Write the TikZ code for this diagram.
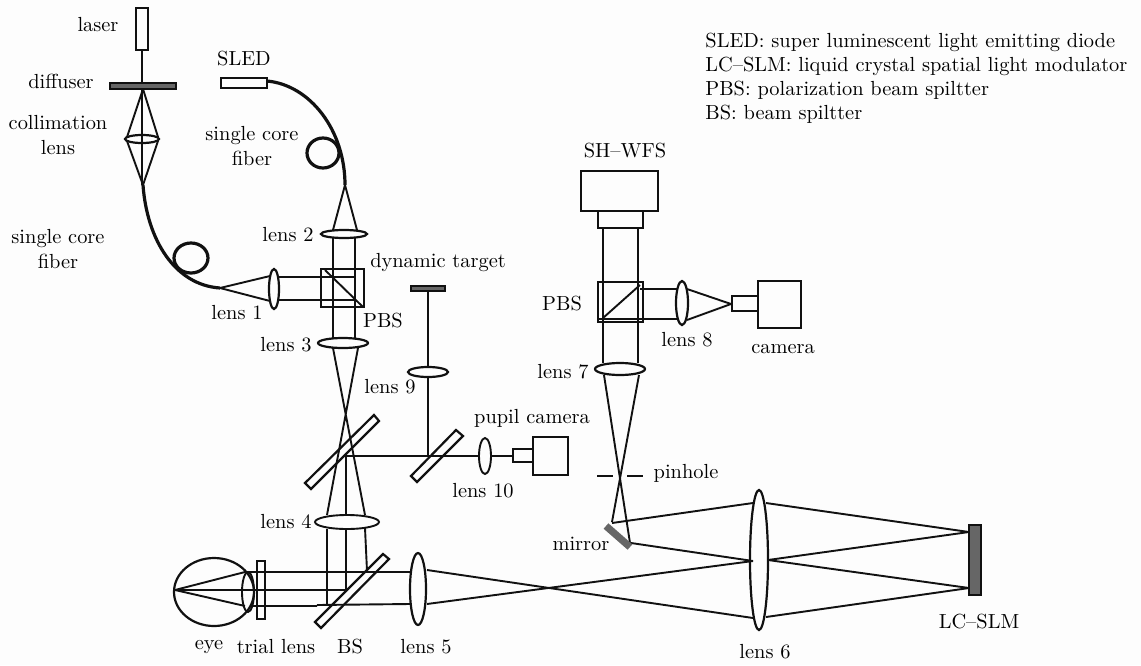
\documentclass[tikz,border=0pt]{standalone}
\definecolor{ink}{HTML}{111111}
\definecolor{bar}{HTML}{666666}
\definecolor{paper}{HTML}{FDFDFD}
\tikzset{
  ray/.style={draw=ink,line width=0.95pt},
  fibre/.style={draw=ink,line width=1.6pt},
  part/.style={draw=ink,line width=1.1pt},
  glass/.style={draw=ink,line width=0.95pt,fill=paper},
  dark/.style={draw=ink,line width=1.05pt,fill=bar},
  lbl/.style={inner sep=0pt,text=black,align=center,font=\fontsize{10.2}{12}\selectfont},
  legend/.style={inner sep=0pt,text=black,anchor=west,font=\fontsize{10.2}{12}\selectfont}
}
\begin{document}
\begin{tikzpicture}[x=0.5pt,y=-0.5pt]
\useasboundingbox[fill=paper] (0,0) rectangle (1141,665);

% --- laser arm
\draw[ray] (142,50) -- (142,185);
\draw[part] (136,8) rectangle (148,50);
\draw[dark] (110,83) rectangle (176,89);
\draw[ray] (143,89) -- (127,137) (143,89) -- (158,137);
\draw[ray] (127,141) -- (143,185) (158,141) -- (143,185);
\draw[part] (142,139) ellipse [x radius=17,y radius=4];
\draw[fibre] (143,185) .. controls (147,240) and (175,285) .. (220,288);
\draw[fibre] (191,258) ellipse [x radius=17,y radius=15];
\draw[ray] (220,288) -- (270,276) (220,288) -- (270,301);
\draw[part] (274,289) ellipse [x radius=5,y radius=20];
\draw[ray] (279,277) -- (355,277) (279,300) -- (355,300);

% --- SLED arm
\draw[part] (221,78) rectangle (267,88);
\draw[fibre] (267,81) .. controls (310,85) and (345,130) .. (345,185);
\draw[fibre] (323,153) ellipse [x radius=16,y radius=15];
\draw[ray] (345,185) -- (333,230) (345,185) -- (357,230);
\draw[part] (344,234) ellipse [x radius=23,y radius=4];
\draw[ray] (333,238) -- (333,338) (355,238) -- (355,338);
\draw[part] (321,269) rectangle (364,307);
\draw[ray] (325,270) -- (363,307);
\draw[part] (343,343) ellipse [x radius=25,y radius=5];
\draw[ray] (333,348) -- (365,515) (358,348) -- (327,515);

% --- beam splitter and pupil arm
\draw[part] (374,415) -- (379,421) -- (311,489) -- (305,483) -- cycle;
\draw[ray] (346,456) -- (346,590);
\draw[ray] (346,456) -- (513,456);
\draw[ray] (428,289) -- (428,367) (428,377) -- (428,456);
\draw[dark] (411,286) rectangle (445,291);
\draw[part] (428,372) ellipse [x radius=20,y radius=5];
\draw[part] (456,430) -- (463,436) -- (417,482) -- (411,476) -- cycle;
\draw[glass] (485,456) ellipse [x radius=6,y radius=18];
\draw[part] (513,449) rectangle (533,462);
\draw[part] (533,437) rectangle (568,475);

% --- lens 4 and eye
\draw[glass] (347,522) ellipse [x radius=32,y radius=7];
\draw[ray] (327,529) -- (327,605) (365,528) -- (367,571);
\draw[part] (214,592) ellipse [x radius=40,y radius=34];
\draw[ray] (248,592) ellipse [x radius=6,y radius=20];
\draw[part,fill=paper] (257,561) rectangle (265,619);
\draw[ray] (175,590) -- (245,572) (175,590) -- (245,606);
\draw[ray] (245,572) -- (410,572) (175,590) -- (346,590) (250,606) -- (317,606) (317,605) -- (410,604);
\draw[part] (383,554) -- (389,559) -- (321,628) -- (315,622) -- cycle;

% --- relay to SLM
\draw[part] (418,589) ellipse [x radius=8,y radius=36];
\draw[ray] (427,570) -- (753,618) (427,604) -- (753,561);
\draw[ray] (612,523) -- (753,503) (631,543) -- (753,561);
\draw[part] (759,560) ellipse [x radius=9,y radius=70];
\draw[ray] (766,503) -- (969,532) (768,560) -- (969,532);
\draw[ray] (768,560) -- (969,588) (766,617) -- (969,588);
\draw[dark] (969,525) rectangle (981,595);

% --- wavefront sensor arm
\draw[ray] (604,375) -- (630,543) (639,375) -- (612,522);
\draw[part] (597,476) -- (613,476) (627,476) -- (643,476);
\draw[draw=bar,line width=3.6pt] (606,526) -- (630,547);
\draw[part] (620,369) ellipse [x radius=25,y radius=6];
\draw[part] (603,228) -- (603,363) (638,228) -- (638,363);
\draw[part] (598,282) rectangle (643,322);
\draw[part] (598,319) -- (643,319);
\draw[ray] (603,318) -- (640,285);
\draw[ray] (640,289) -- (678,289) (640,319) -- (678,319);
\draw[part] (682,303) ellipse [x radius=6,y radius=22];
\draw[ray] (687,289) -- (731,304) (687,320) -- (731,304);
\draw[part] (732,296) rectangle (758,311);
\draw[part] (758,281) rectangle (801,328);
\draw[part] (581,171) rectangle (658,211);
\draw[part] (598,211) rectangle (643,228);

% --- labels
\node[lbl] (tlaser) at (98,25) {laser};
\node[lbl] (tdiff) at (61,81) {diffuser};
\node[lbl] (tcoll) at (58,135) {collimation\\[0.4pt]lens};
\node[lbl] (tfibL) at (58,249) {single core\\[0.4pt]fiber};
\node[lbl] (tfibR) at (252,146) {single core\\[0.4pt]fiber};
\node[lbl] (tsled) at (244,59) {SLED};
\node[lbl] (tl2) at (288,235) {lens 2};
\node[lbl] (tl1) at (237,313) {lens 1};
\node[lbl] (tdyn) at (438,263) {dynamic target};
\node[lbl] (tpbs1) at (383,321) {PBS};
\node[lbl] (tl3) at (286,345) {lens 3};
\node[lbl] (tl9) at (390,387) {lens 9};
\node[lbl] (tpup) at (532,418) {pupil camera};
\node[lbl] (tl10) at (483,491) {lens 10};
\node[lbl] (tl4) at (286,522) {lens 4};
\node[lbl] (teye) at (209,647) {eye};
\node[lbl] (ttrial) at (276,647) {trial lens};
\node[lbl] (tbs) at (350,647) {BS};
\node[lbl] (tl5) at (426,647) {lens 5};
\node[lbl] (tl6) at (765,652) {lens 6};
\node[lbl] (tslm) at (979,622) {LC--SLM};
\node[lbl] (tmir) at (581,544) {mirror};
\node[lbl] (tpin) at (686,473) {pinhole};
\node[lbl] (tcam) at (783,349) {camera};
\node[lbl] (tl8) at (687,340) {lens 8};
\node[lbl] (tpbs2) at (562,304) {PBS};
\node[lbl] (tl7) at (563,372) {lens 7};
\node[lbl] (tsh) at (625,151) {SH--WFS};
\node[legend] (leg1) at (705,42) {SLED: super luminescent light emitting diode};
\node[legend] (leg2) at (705,66) {LC--SLM: liquid crystal spatial light modulator};
\node[legend] (leg3) at (705,90) {PBS: polarization beam spiltter};
\node[legend] (leg4) at (705,114) {BS: beam spiltter};
\end{tikzpicture}
\end{document}
